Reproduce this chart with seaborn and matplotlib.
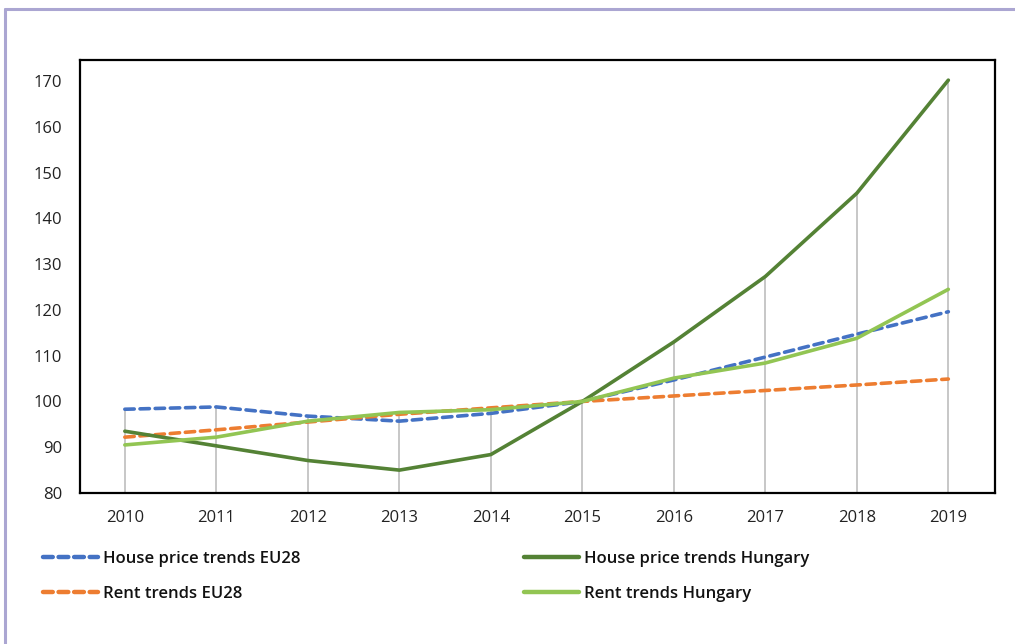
import matplotlib
matplotlib.use("Agg")
import matplotlib.pyplot as plt
from matplotlib.lines import Line2D
import seaborn as sns
import pandas as pd
import numpy as np

years = [2010, 2011, 2012, 2013, 2014, 2015, 2016, 2017, 2018, 2019]
house_eu28 = [98.3, 98.8, 96.8, 95.7, 97.4, 100.0, 104.7, 109.7, 114.7, 119.6]
rent_eu28 = [92.2, 93.8, 95.5, 97.2, 98.6, 100.0, 101.2, 102.4, 103.6, 104.9]
house_hu = [93.5, 90.3, 87.1, 85.0, 88.4, 100.0, 113.0, 127.3, 145.5, 170.2]
rent_hu = [90.5, 92.2, 95.7, 97.6, 98.2, 100.0, 105.1, 108.4, 113.8, 124.5]
labels = ["House price trends EU28", "Rent trends EU28",
          "House price trends Hungary", "Rent trends Hungary"]
yticks = [80, 90, 100, 110, 120, 130, 140, 150, 160, 170]

sns.set_theme(style="white")
plt.rcParams['font.family'] = ['Open Sans', 'DejaVu Sans']

fig = plt.figure(figsize=(10.15, 6.44), dpi=100)
ax = fig.add_axes([80/1015, 1-493/644, (995-80)/1015, (493-60)/644])

series = [house_eu28, rent_eu28, house_hu, rent_hu]
colors = ["#4472C4", "#ED7D31", "#548235", "#92C553"]
dashed = [True, True, False, False]

# drop lines to the highest value at each year
tops = np.max(np.array(series), axis=0)
ax.vlines(years, 80, tops, color="#bdbdbd", lw=1.2, zorder=1)

handles = []
for vals, lab, c, d in zip(series, labels, colors, dashed):
    df = pd.DataFrame({"year": years, "value": vals})
    sns.lineplot(data=df, x="year", y="value", ax=ax, color=c, lw=2.6,
                 zorder=3, label=None)
    ln = ax.lines[-1]
    if d:
        ln.set_dashes((2.6, 1.6))
        ln.set_dash_capstyle("round")
    h = Line2D([0], [0], color=c, lw=3.2)
    if d:
        h.set_dashes((2.2, 1.3))
        h.set_dash_capstyle("round")
    handles.append(h)

if ax.get_legend():
    ax.get_legend().remove()

ax.set_xlim(2009.51, 2019.51)
ax.set_ylim(80, 174.6)
ax.set_xticks(years)
ax.set_xticklabels([str(y) for y in years])
ax.set_yticks(yticks)
ax.set_xlabel("")
ax.set_ylabel("")
ax.tick_params(axis="both", length=0, labelsize=12, colors="#222222")
ax.tick_params(axis="y", pad=13)
ax.tick_params(axis="x", pad=12)
for s in ax.spines.values():
    s.set_color("black")
    s.set_linewidth(1.6)
ax.grid(False)

leg_kw = dict(frameon=False, fontsize=12, handlelength=3.3, handletextpad=0.3,
              labelspacing=1.12, borderpad=0, borderaxespad=0, loc="upper left")
l1 = fig.legend(handles[:2], labels[:2], bbox_to_anchor=(43/1015, 1-551/644), **leg_kw)
l2 = fig.legend(handles[2:], labels[2:], bbox_to_anchor=(524/1015, 1-551/644), **leg_kw)
for l in (l1, l2):
    for t in l.get_texts():
        t.set_fontweight("semibold")
        t.set_color("#111111")

# purple page border
bc = "#ABA6D2"
fig.add_artist(Line2D([5/1015, 1.0], [1-9/644, 1-9/644], color=bc, lw=2.2, transform=fig.transFigure))
fig.add_artist(Line2D([5/1015, 5/1015], [0, 1-9/644], color=bc, lw=2.2, transform=fig.transFigure))

fig.savefig("out.png", dpi=100)
